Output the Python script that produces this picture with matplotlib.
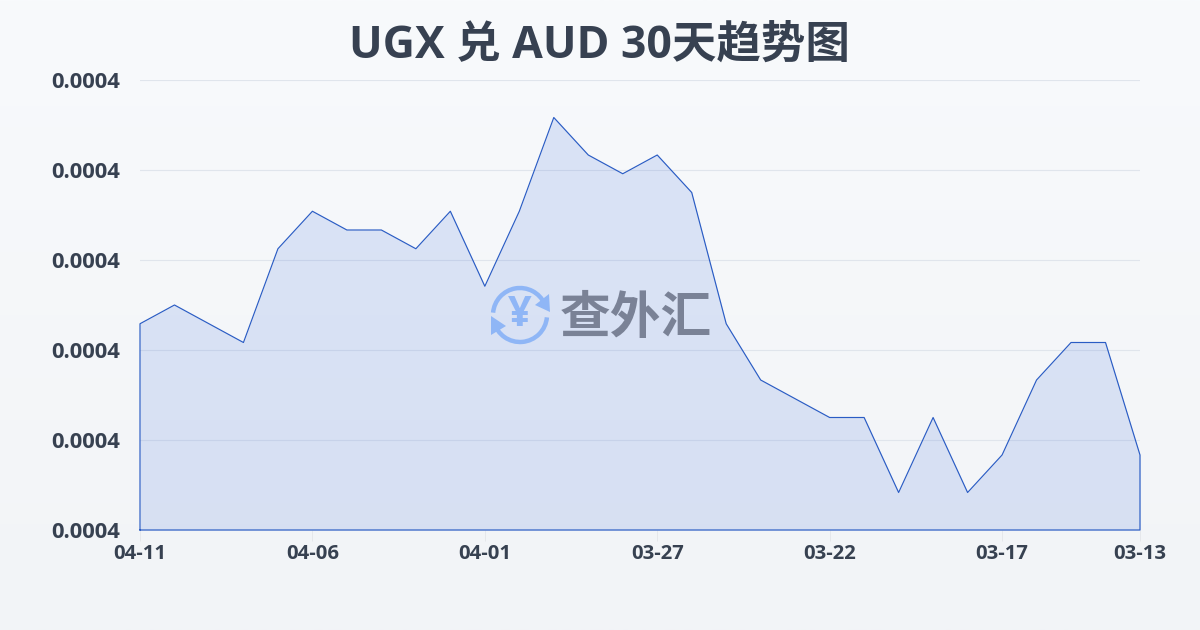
import matplotlib
matplotlib.use('Agg')
import matplotlib.pyplot as plt
import numpy as np
from matplotlib.patches import Arc, Polygon

plt.rcParams['font.family'] = ['Open Sans', 'Noto Sans CJK SC', 'DejaVu Sans']

title = 'UGX 兑 AUD 30天趋势图'
dates = ['04-11', '04-06', '04-01', '03-27', '03-22', '03-17', '03-13']
date_idx = [0, 5, 10, 15, 20, 25, 29]
rates = [0.000391, 0.000392, 0.000391, 0.000390, 0.000395, 0.000397,
         0.000396, 0.000396, 0.000395, 0.000397, 0.000393, 0.000397,
         0.000402, 0.000400, 0.000399, 0.000400, 0.000398, 0.000391,
         0.000388, 0.000387, 0.000386, 0.000386, 0.000382, 0.000386,
         0.000382, 0.000384, 0.000388, 0.000390, 0.000390, 0.000384]
y_lo, y_hi = 0.000380, 0.000404

W, H = 1200, 630
fig = plt.figure(figsize=(12, 6.3), dpi=100)

# background gradient
bg = fig.add_axes([0, 0, 1, 1], zorder=0)
bg.imshow(np.linspace(0, 1, 256).reshape(-1, 1), aspect='auto',
          cmap=matplotlib.colors.LinearSegmentedColormap.from_list('bg', ['#f8fafc', '#f2f4f7']))
bg.axis('off')

ax = fig.add_axes([140 / W, 1 - 530 / H, 1000 / W, 450 / H], zorder=1)
ax.patch.set_alpha(0)
x = np.arange(len(rates))
ax.set_xlim(0, len(rates) - 1)
ax.set_ylim(y_lo, y_hi)
ax.fill_between(x, rates, y_lo, color='#2f63d8', alpha=0.14, lw=0, zorder=2)
ax.plot(np.r_[x[0], x, x[-1], x[0]], np.r_[y_lo, rates, y_lo, y_lo],
        color='#2a5cc4', lw=0.85, zorder=3, clip_on=False)

yt = np.linspace(y_lo, y_hi, 6)
ax.set_yticks(yt, [f'{v:.4f}' for v in yt])
ax.set_xticks(date_idx, dates)
ax.grid(axis='y', color='#e0e5ec', lw=0.8, zorder=1)
for s in ax.spines.values():
    s.set_visible(False)
ax.tick_params(axis='y', length=0, pad=14, labelsize=15.8, labelcolor='#374151')
ax.tick_params(axis='x', length=8, width=0.7, color='#e5e7eb', pad=2, labelsize=14.6, labelcolor='#374151')
for t in ax.get_xticklabels() + ax.get_yticklabels():
    t.set_fontweight('bold')

fig.text(0.5 - 0.5 / W, 1 - 46.5 / H, title, ha='center', va='center', fontsize=32,
         fontweight='bold', color='#374151', zorder=5)

# watermark, drawn in pixel coordinates
ov = fig.add_axes([0, 0, 1, 1], zorder=4)
ov.set_xlim(0, W)
ov.set_ylim(H, 0)
ov.axis('off')
blue = '#8fb6f6'
ov.add_patch(Arc((520, 315), 54, 54, theta1=185, theta2=335, color=blue, lw=3.2))
ov.add_patch(Arc((520, 315), 54, 54, theta1=5, theta2=165, color=blue, lw=3.2))
ov.add_patch(Polygon([[549, 294], [550, 312], [535, 305]], color=blue, lw=0))
ov.add_patch(Polygon([[491, 316], [491, 335], [506, 326]], color=blue, lw=0))
ov.text(520, 315, '¥', ha='center', va='center', fontsize=30, fontweight='bold', color=blue)
ov.text(636, 320, '查外汇', ha='center', va='center', fontsize=36.5, fontweight='bold', color='#7a8296')

fig.savefig('out.png', dpi=100)
